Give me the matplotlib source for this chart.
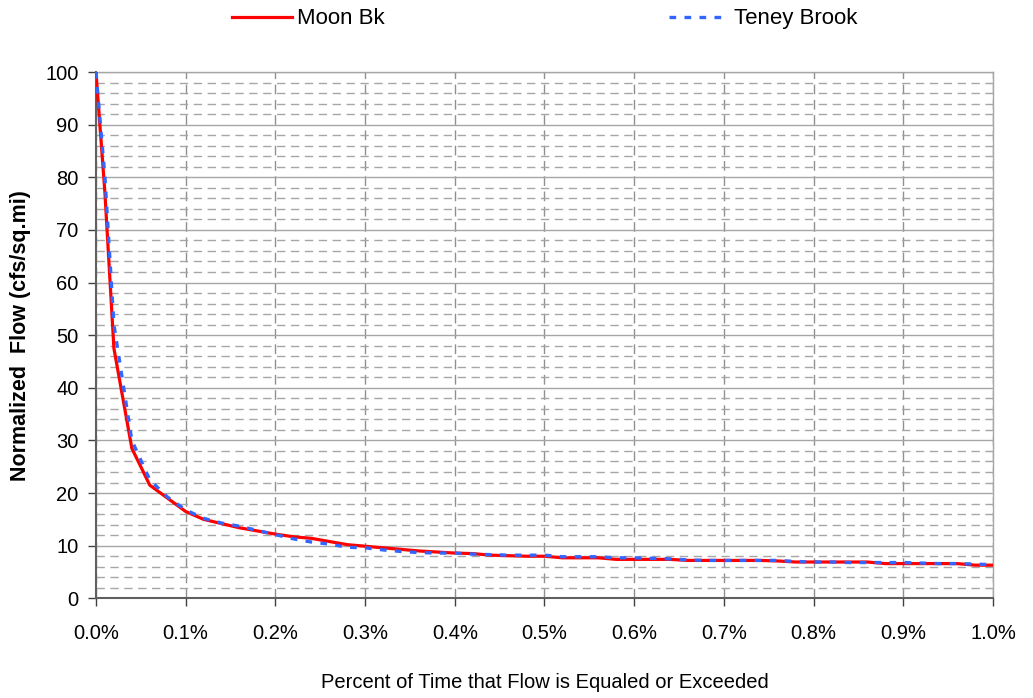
import numpy as np
import matplotlib.pyplot as plt
from matplotlib.ticker import MultipleLocator, FuncFormatter

plt.rcParams['font.family'] = ['Liberation Sans', 'DejaVu Sans']

# percent of time (%) that flow is equaled or exceeded
pct = [0.0, 0.01, 0.02, 0.04, 0.06, 0.08, 0.10, 0.12, 0.14, 0.16, 0.18, 0.20,
       0.22, 0.24, 0.26, 0.28, 0.30, 0.32, 0.34, 0.36, 0.38, 0.40, 0.42, 0.44,
       0.46, 0.48, 0.50, 0.52, 0.54, 0.56, 0.58, 0.60, 0.62, 0.64, 0.66, 0.68,
       0.70, 0.72, 0.74, 0.76, 0.78, 0.80, 0.82, 0.84, 0.86, 0.88, 0.90, 0.92,
       0.94, 0.96, 0.98, 1.00]

moon_bk = [100, 77, 47.5, 28.5, 21.5, 19.0, 16.5, 15.0, 14.2, 13.4, 12.8, 12.2,
           11.7, 11.4, 10.8, 10.2, 9.9, 9.6, 9.3, 9.0, 8.8, 8.6, 8.5, 8.2,
           8.1, 8.0, 8.0, 7.7, 7.7, 7.7, 7.4, 7.4, 7.4, 7.4, 7.2, 7.2,
           7.2, 7.2, 7.2, 7.1, 6.9, 6.9, 6.9, 6.9, 6.9, 6.6, 6.6, 6.6,
           6.6, 6.6, 6.3, 6.3]

teney_brook = [100, 80, 52, 30, 22.5, 19.2, 16.8, 15.2, 14.3, 13.7, 12.9, 12.1,
               11.3, 10.7, 10.3, 9.7, 9.6, 9.2, 8.9, 8.7, 8.6, 8.6, 8.4, 8.3,
               8.2, 8.2, 8.2, 7.9, 7.9, 7.9, 7.7, 7.7, 7.6, 7.5, 7.3, 7.2,
               7.2, 7.2, 7.2, 7.2, 7.0, 6.9, 6.9, 6.8, 6.8, 6.8, 6.8, 6.7,
               6.6, 6.6, 6.5, 6.4]

fig = plt.figure(figsize=(10.33, 6.98), dpi=100)
ax = fig.add_axes([0.0929, 0.1428, 0.8684, 0.754])

l1, = ax.plot(pct, moon_bk, color='#ff0000', lw=2.3, label='Moon Bk', zorder=3)
l2, = ax.plot(pct, teney_brook, color='#3366ff', lw=2.4, ls=(0, (2, 2.5)),
              label='Teney Brook', zorder=4)

ax.set_xlim(0, 1.0)
ax.set_ylim(0, 100)
ax.xaxis.set_major_locator(MultipleLocator(0.1))
ax.xaxis.set_major_formatter(FuncFormatter(lambda v, p: f"{v:.1f}%"))
ax.yaxis.set_major_locator(MultipleLocator(10))
ax.yaxis.set_minor_locator(MultipleLocator(2))

ax.grid(True, which='major', axis='y', color='#a6a6a6', lw=1.0, ls='-')
ax.grid(True, which='minor', axis='y', color='#a6a6a6', lw=1.0, ls=(0, (6, 4)))
ax.grid(True, which='major', axis='x', color='#909090', lw=1.0, ls=(0, (7, 4)))
ax.set_axisbelow(True)

for s in ['left', 'bottom']:
    ax.spines[s].set_color('#606060')
    ax.spines[s].set_linewidth(1.5)
for s in ['right', 'top']:
    ax.spines[s].set_color('#a6a6a6')
    ax.spines[s].set_linewidth(1.0)

ax.tick_params(axis='both', which='major', direction='out', length=5.5,
               color='#404040', labelsize=14.5, width=1)
ax.tick_params(axis='y', which='minor', length=0)
ax.tick_params(axis='x', pad=13)
ax.tick_params(axis='y', pad=7)

ax.set_ylabel('Normalized  Flow (cfs/sq.mi)', fontsize=15.5, fontweight='bold')
ax.yaxis.set_label_coords(-0.072, 0.5)
ax.set_xlabel('Percent of Time that Flow is Equaled or Exceeded', fontsize=14.5)
ax.xaxis.set_label_coords(0.5, -0.142)

fig.legend(handles=[l1, l2], loc='center', bbox_to_anchor=(0.5276, 0.973),
           ncol=2, frameon=False, fontsize=16, handlelength=2.7,
           handletextpad=0.23, columnspacing=12.8)

fig.savefig('out.png', dpi=100)
